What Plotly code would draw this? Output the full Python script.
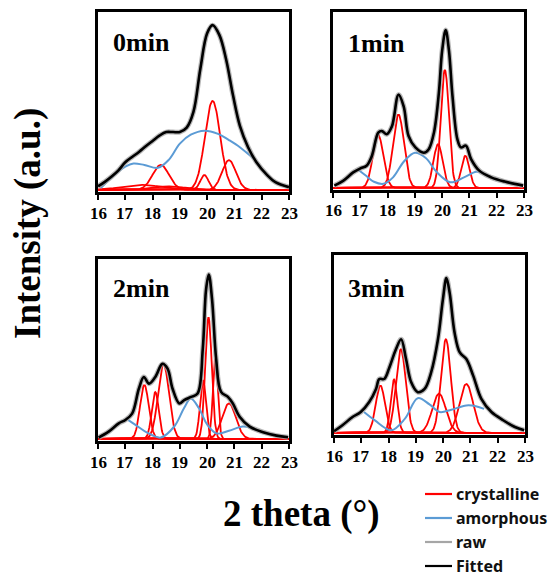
import numpy as np
import plotly.graph_objects as go

W, H = 548, 578

# ---------------- data ----------------
panel_titles = ["0min", "1min", "2min", "3min"]
tick_values = [16, 17, 18, 19, 20, 21, 22, 23]

# Fitted curves (2theta, relative intensity)
fit_x_0 = [16.0, 16.25, 16.5, 16.75, 17.0, 17.25, 17.5, 17.75, 18.0, 18.25, 18.5, 18.75, 19.0, 19.25,
           19.5, 19.75, 20.0, 20.2, 20.45, 20.7, 20.95, 21.2, 21.5, 21.8, 22.2, 22.5, 23.0]
fit_y_0 = [0.02, 0.045, 0.075, 0.11, 0.155, 0.185, 0.213, 0.245, 0.275, 0.305, 0.325, 0.325, 0.325, 0.35,
           0.44, 0.68, 0.88, 0.926, 0.87, 0.73, 0.53, 0.36, 0.24, 0.157, 0.083, 0.043, 0.015]

fit_x_1 = [16.05, 16.37, 16.74, 16.99, 17.23, 17.42, 17.66, 17.79, 17.97, 18.16, 18.4, 18.59, 18.77, 19.02,
           19.33, 19.51, 19.7, 19.88, 20.0, 20.13, 20.25, 20.38, 20.56, 20.69, 20.87, 21.06, 21.36, 21.8,
           22.29, 22.97]
fit_y_1 = [0.013, 0.04, 0.088, 0.11, 0.126, 0.18, 0.314, 0.323, 0.305, 0.35, 0.53, 0.464, 0.295, 0.23,
           0.2, 0.22, 0.314, 0.54, 0.78, 0.897, 0.78, 0.52, 0.276, 0.23, 0.24, 0.164, 0.098, 0.06,
           0.036, 0.013]

fit_x_2 = [16.02, 16.39, 16.76, 17.0, 17.25, 17.5, 17.68, 17.87, 18.1, 18.36, 18.55, 18.73, 18.98, 19.16,
           19.41, 19.65, 19.84, 19.96, 20.06, 20.18, 20.33, 20.51, 20.76, 20.94, 21.19, 21.56, 22.05,
           22.54, 22.97]
fit_y_2 = [0.007, 0.04, 0.086, 0.105, 0.14, 0.28, 0.344, 0.307, 0.344, 0.417, 0.39, 0.28, 0.197, 0.215,
           0.233, 0.252, 0.5, 0.83, 0.914, 0.776, 0.445, 0.261, 0.233, 0.197, 0.123, 0.068, 0.037,
           0.018, 0.009]

fit_x_3 = [16.0, 16.31, 16.68, 16.98, 17.29, 17.54, 17.66, 17.84, 18.03, 18.27, 18.46, 18.64, 18.83, 19.07,
           19.32, 19.56, 19.81, 19.99, 20.12, 20.24, 20.42, 20.61, 20.85, 21.1, 21.4, 21.77, 22.2,
           22.63, 22.97]
fit_y_3 = [0.009, 0.043, 0.089, 0.117, 0.173, 0.247, 0.303, 0.303, 0.368, 0.47, 0.526, 0.415, 0.284, 0.229,
           0.247, 0.34, 0.526, 0.749, 0.87, 0.786, 0.563, 0.452, 0.415, 0.322, 0.191, 0.117, 0.071,
           0.033, 0.015]

# Amorphous curves
amo_x_0 = [16.1, 16.5, 17.0, 17.3, 17.7, 18.2, 18.6, 19.0, 19.4, 19.9, 20.4, 20.8, 21.2, 21.7]
amo_y_0 = [0.01, 0.07, 0.13, 0.148, 0.14, 0.124, 0.17, 0.26, 0.31, 0.333, 0.315, 0.28, 0.24, 0.176]

amo_x_1 = [16.95, 17.2, 17.5, 17.85, 18.2, 18.6, 19.0, 19.4, 19.8, 20.3, 20.8, 21.25, 21.5]
amo_y_1 = [0.10, 0.07, 0.035, 0.023, 0.06, 0.15, 0.2, 0.17, 0.09, 0.032, 0.06, 0.092, 0.085]

amo_x_2 = [17.1, 17.4, 17.8, 18.3, 18.8, 19.15, 19.4, 19.7, 20.0, 20.35, 20.8, 21.3, 21.6]
amo_y_2 = [0.105, 0.075, 0.035, 0.007, 0.07, 0.17, 0.224, 0.17, 0.08, 0.03, 0.045, 0.068, 0.062]

amo_x_3 = [17.1, 17.5, 18.1, 18.6, 19.07, 19.5, 19.87, 20.3, 20.85, 21.2, 21.5]
amo_y_3 = [0.117, 0.07, 0.015, 0.08, 0.195, 0.16, 0.117, 0.13, 0.154, 0.15, 0.135]

# Crystalline peaks: centre (2theta), height, width
cry_center_0 = [18.3, 20.2, 20.8, 19.9, 17.6, 18.6]
cry_height_0 = [0.14, 0.5, 0.167, 0.083, 0.028, 0.02]
cry_width_0 = [0.3, 0.28, 0.25, 0.15, 0.7, 0.6]

cry_center_1 = [17.65, 18.4, 19.85, 20.1, 20.85]
cry_height_1 = [0.305, 0.417, 0.248, 0.671, 0.182]
cry_width_1 = [0.19, 0.2, 0.17, 0.15, 0.15]

cry_center_2 = [17.7, 18.1, 18.4, 19.85, 20.05, 20.3, 20.8]
cry_height_2 = [0.3, 0.26, 0.417, 0.325, 0.675, 0.445, 0.197]
cry_width_2 = [0.16, 0.13, 0.2, 0.11, 0.12, 0.09, 0.25]

cry_center_3 = [17.7, 18.2, 18.45, 19.85, 20.1, 20.85]
cry_height_3 = [0.266, 0.3, 0.47, 0.22, 0.526, 0.275]
cry_width_3 = [0.17, 0.12, 0.18, 0.25, 0.18, 0.25]

legend_labels = ["crystalline", "amorphous", "raw", "Fitted"]

# ---------------- styling ----------------
RED = "#ff0000"
BLUE = "#5b9bd5"
GRAY = "#a6a6a6"
BLACK = "#000000"
SERIF = "Liberation Serif"

fits = [(fit_x_0, fit_y_0), (fit_x_1, fit_y_1), (fit_x_2, fit_y_2), (fit_x_3, fit_y_3)]
amos = [(amo_x_0, amo_y_0), (amo_x_1, amo_y_1), (amo_x_2, amo_y_2), (amo_x_3, amo_y_3)]
crys = [(cry_center_0, cry_height_0, cry_width_0), (cry_center_1, cry_height_1, cry_width_1),
        (cry_center_2, cry_height_2, cry_width_2), (cry_center_3, cry_height_3, cry_width_3)]

# panel boxes in pixels: left, right, top, bottom
boxes = [(98, 289, 12, 192), (333, 524, 12, 190), (98, 289, 259, 441), (334, 525, 255, 435)]
title_pos = [(111, 42), (346, 43), (111, 288), (346, 288)]


def px(x):
    return x / W


def py(y):
    return 1 - y / H


fig = go.Figure()
grid = np.linspace(16, 23, 351)

for i in range(4):
    xa = "x" if i == 0 else f"x{i+1}"
    ya = "y" if i == 0 else f"y{i+1}"
    cc, hh, ww = crys[i]
    for c, h, w in zip(cc, hh, ww):
        fig.add_trace(go.Scatter(x=grid, y=h * np.exp(-(grid - c) ** 2 / (2 * w * w)), mode="lines",
                                 line=dict(color=RED, width=1.8), xaxis=xa, yaxis=ya,
                                 showlegend=False, hoverinfo="skip"))
    ax, ay = amos[i]
    fig.add_trace(go.Scatter(x=ax, y=ay, mode="lines", line=dict(color=BLUE, width=2, shape="spline"),
                             xaxis=xa, yaxis=ya, showlegend=False, hoverinfo="skip"))
    fx, fy = fits[i]
    fig.add_trace(go.Scatter(x=fx, y=fy, mode="lines", line=dict(color=GRAY, width=5, shape="spline"),
                             opacity=0.8, xaxis=xa, yaxis=ya, showlegend=False, hoverinfo="skip"))
    fig.add_trace(go.Scatter(x=fx, y=fy, mode="lines", line=dict(color=BLACK, width=2.6, shape="spline"),
                             xaxis=xa, yaxis=ya, showlegend=False, hoverinfo="skip"))

    l, r, t, b = boxes[i]
    xkey = "xaxis" if i == 0 else f"xaxis{i+1}"
    ykey = "yaxis" if i == 0 else f"yaxis{i+1}"
    fig.layout[xkey] = dict(domain=[px(l), px(r)], anchor=ya, range=[16, 23], showline=True, mirror=True,
                            linecolor=BLACK, linewidth=2.5, ticks="outside", ticklen=5, tickwidth=2,
                            tickcolor=BLACK, tickvals=tick_values, showticklabels=False,
                            showgrid=False, zeroline=False, fixedrange=True)
    fig.layout[ykey] = dict(domain=[py(b), py(t)], anchor=xa, range=[-0.012, 1.0], showline=True,
                            mirror=True, linecolor=BLACK, linewidth=2.5, showticklabels=False, ticks="",
                            showgrid=False, zeroline=False, fixedrange=True)
    # tick labels (serif bold) placed on the axis scale
    for v in tick_values:
        fig.add_annotation(x=v, xref=xa, y=py(b + 21), yref="paper", text=str(v), showarrow=False,
                           xanchor="center", yanchor="middle",
                           font=dict(family=SERIF, size=17, color=BLACK, weight="bold"))
    tx, ty = title_pos[i]
    fig.add_annotation(x=px(tx), y=py(ty), xref="paper", yref="paper", text=panel_titles[i],
                       showarrow=False, xanchor="left", yanchor="middle",
                       font=dict(family=SERIF, size=26, color=BLACK, weight="bold"))

# axis titles
fig.add_annotation(x=px(28), y=py(224), xref="paper", yref="paper", text="Intensity (a.u.)",
                   textangle=-90, showarrow=False, xanchor="center", yanchor="middle",
                   font=dict(family=SERIF, size=37, color=BLACK, weight="bold"))
fig.add_annotation(x=px(301), y=py(514), xref="paper", yref="paper", text="2 theta (°)",
                   showarrow=False, xanchor="center", yanchor="middle",
                   font=dict(family=SERIF, size=37, color=BLACK, weight="bold"))

# legend
leg_colors = [RED, BLUE, GRAY, BLACK]
for k, (lab, col) in enumerate(zip(legend_labels, leg_colors)):
    yy = 494 + k * 24
    fig.add_shape(type="line", xref="paper", yref="paper", x0=px(425), x1=px(452), y0=py(yy), y1=py(yy),
                  line=dict(color=col, width=2.2))
    fig.add_annotation(x=px(454), y=py(yy), xref="paper", yref="paper", text=lab, showarrow=False,
                       xanchor="left", yanchor="middle",
                       font=dict(family="Noto Sans", size=16, color="#111111", weight="bold"))

fig.update_layout(width=W, height=H, margin=dict(l=0, r=0, t=0, b=0), plot_bgcolor="white",
                  paper_bgcolor="white", showlegend=False)

fig.write_html("out.html")
